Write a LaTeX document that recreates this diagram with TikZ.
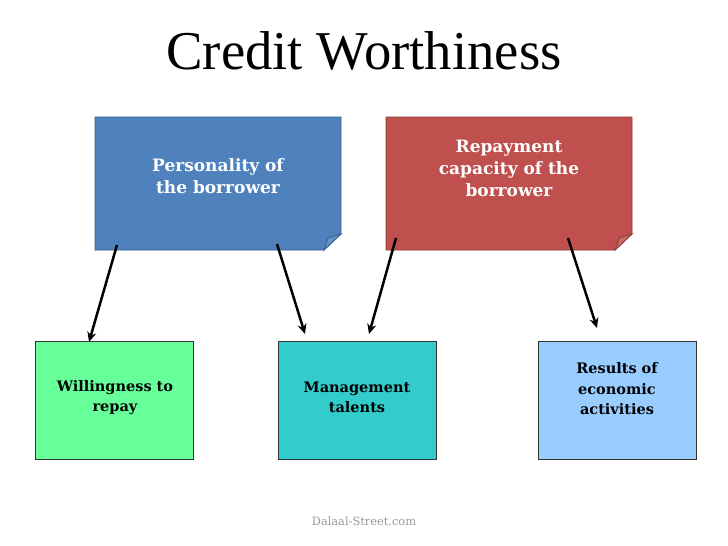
\documentclass[tikz,border=0pt]{standalone}
\usepackage{fontspec}
\setmainfont{DejaVu Serif}
\newfontfamily\titlefont{Liberation Serif}
\usetikzlibrary{arrows.meta,calc}
\definecolor{pblue}{HTML}{4F81BD}
\definecolor{pbluedark}{HTML}{385D8A}
\definecolor{pred}{HTML}{C0504D}
\definecolor{preddark}{HTML}{8C3836}
\definecolor{pgreen}{HTML}{66FF99}
\definecolor{pteal}{HTML}{33CCCC}
\definecolor{plight}{HTML}{99CCFF}
\definecolor{wmgray}{HTML}{999999}
\tikzset{
  toptext/.style={align=center, text=white, font=\bfseries\fontsize{17}{22}\selectfont},
  botbox/.style={draw=black!80, line width=0.8pt, minimum width=158pt, minimum height=118pt},
  bottext/.style={align=center, text=black, font=\bfseries\fontsize{14.5}{20.5}\selectfont},
  arr/.style={line width=2.5pt, -{Stealth[length=10pt,width=9pt]}},
}
\begin{document}
\begin{tikzpicture}[x=1pt,y=-1pt]
\useasboundingbox[fill=white] (0,0) rectangle (728,546);
% title
\node[font=\titlefont\fontsize{54.7}{60}\selectfont] (title) at (364,51) {Credit Worthiness};
% blue folded box
\filldraw[fill=pblue, draw=pbluedark, line width=0.8pt]
  (95,117) -- (341,117) -- (341,234) -- (324,250) -- (95,250) -- cycle;
\filldraw[fill=pblue!85!white, draw=pbluedark, line width=0.8pt]
  (324,250) -- (328,238) -- (341,234) -- cycle;
\node[toptext] (pers) at (218,176) {Personality of\\the borrower};
% red folded box
\filldraw[fill=pred, draw=preddark, line width=0.8pt]
  (386,117) -- (632,117) -- (632,234) -- (615,250) -- (386,250) -- cycle;
\filldraw[fill=pred!85!white, draw=preddark, line width=0.8pt]
  (615,250) -- (619,238) -- (632,234) -- cycle;
\node[toptext] (rep) at (509,168) {Repayment\\capacity of the\\borrower};
% bottom boxes
\node[botbox, fill=pgreen] (will) at (114,400) {};
\node[botbox, fill=pteal] (mgmt) at (357,400) {};
\node[botbox, fill=plight] (res) at (617,400) {};
\node[bottext] (willt) at (115,397.5) {Willingness to\\repay};
\node[bottext] (mgmtt) at (357,397.5) {Management\\talents};
\node[bottext] (rest) at (617,389) {Results of\\economic\\activities};
% arrow endpoints
\coordinate (a1s) at (117,245); \coordinate (a1e) at (89,342);
\coordinate (a2s) at (277,244); \coordinate (a2e) at (305,334);
\coordinate (a3s) at (396,238); \coordinate (a3e) at (369,334);
\coordinate (a4s) at (568,238); \coordinate (a4e) at (597,328);
\draw[arr] (a1s) -- (a1e);
\draw[arr] (a2s) -- (a2e);
\draw[arr] (a3s) -- (a3e);
\draw[arr] (a4s) -- (a4e);
% watermark
\node[text=wmgray, font=\fontsize{11.4}{13}\selectfont] (wm) at (364,521) {Dalaal-Street.com};
\end{tikzpicture}
\end{document}
